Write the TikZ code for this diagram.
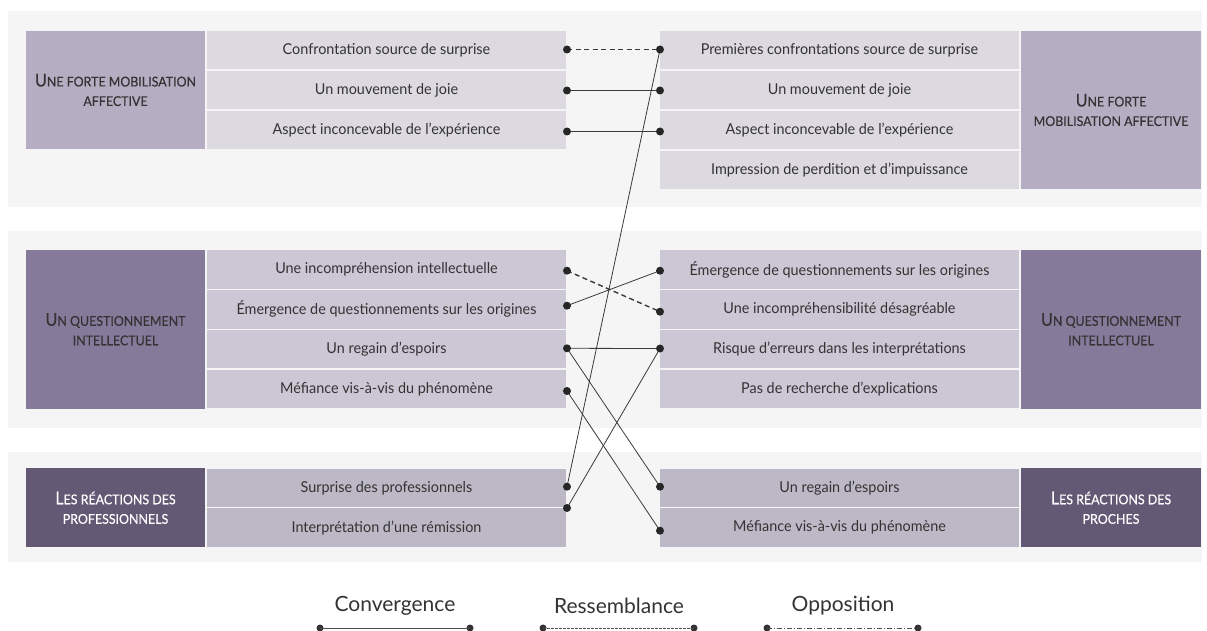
\documentclass[tikz,border=0pt]{standalone}
\usepackage{fontspec}
\setmainfont{Lato}[FakeStretch=0.96]
\newfontfamily\hdfont{Lato}[FakeStretch=0.92,FakeBold=0.4]
\newfontfamily\lgfont{Lato}
\definecolor{panelbg}{HTML}{F6F5F6}
\definecolor{hA}{HTML}{B5AEC3}
\definecolor{cA}{HTML}{DCD9E0}
\definecolor{hB}{HTML}{857A9A}
\definecolor{cB}{HTML}{CCC7D4}
\definecolor{hC}{HTML}{635975}
\definecolor{cC}{HTML}{BDB8C6}
\definecolor{txt}{HTML}{333333}
\definecolor{lnk}{HTML}{3A3A3A}
\newcommand\hcap[1]{{\fontsize{17.5}{19.5}\selectfont #1}}
\begin{document}
\begin{tikzpicture}[x=1pt,y=-1pt,
  panel/.style={fill=panelbg,draw=none},
  cell/.style={draw=none,minimum width=359pt,minimum height=38.4pt,inner sep=0pt,
     text=txt,font=\fontsize{15}{17}\selectfont},
  head/.style={draw=none,minimum width=179pt,inner sep=0pt,align=center,
     font=\hdfont\fontsize{13.5}{19.5}\selectfont},
  dot/.style={circle,fill=black!85,draw=none,minimum size=8pt,inner sep=0pt},
  ldot/.style={circle,fill=black!80,draw=none,minimum size=7pt,inner sep=0pt},
  conv/.style={draw=lnk,line width=0.8pt},
  ress/.style={draw=lnk,line width=1.4pt,dash pattern=on 5pt off 3.5pt},
  legline/.style={draw=black!70,line width=0.7pt},
  legtext/.style={font=\lgfont\fontsize{21}{23}\selectfont,text=txt,inner sep=0pt}
]
\useasboundingbox (0,0) rectangle (1207,631);
\fill[white] (0,0) rectangle (1207,631);
% panels
\path[panel] (8,10.7) rectangle (1202,206.7);
\path[panel] (8,230.7) rectangle (1202,428);
\path[panel] (8,451.7) rectangle (1202,561.7);

% ---------- panel 1 ----------
\node[head,fill=hA,minimum height=118pt,text=txt] (hAL) at (115.5,90)
  {\hcap{U}NE FORTE MOBILISATION\\AFFECTIVE};
\node[cell,fill=cA] (a1) at (386.5,50) {Confrontation source de surprise};
\node[cell,fill=cA] (a2) at (386.5,90) {Un mouvement de joie};
\node[cell,fill=cA] (a3) at (386.5,130) {Aspect inconcevable de l'expérience};
\node[cell,fill=cA] (b1) at (839.5,50) {Premières confrontations source de surprise};
\node[cell,fill=cA] (b2) at (839.5,90) {Un mouvement de joie};
\node[cell,fill=cA] (b3) at (839.5,130) {Aspect inconcevable de l'expérience};
\node[cell,fill=cA] (b4) at (839.5,170) {Impression de perdition et d'impuissance};
\node[head,fill=hA,minimum width=180pt,minimum height=158pt,text=txt] (hAR) at (1111,110)
  {\hcap{U}NE FORTE\\MOBILISATION AFFECTIVE};

% ---------- panel 2 ----------
\node[head,fill=hB,minimum height=158.5pt,text=txt] (hBL) at (115.5,329.3)
  {\hcap{U}N QUESTIONNEMENT\\INTELLECTUEL};
\node[cell,fill=cB] (c1) at (386.5,269.6) {Une incompréhension intellectuelle};
\node[cell,fill=cB] (c2) at (386.5,309.4) {Émergence de questionnements sur les origines};
\node[cell,fill=cB] (c3) at (386.5,349.2) {Un regain d'espoirs};
\node[cell,fill=cB] (c4) at (386.5,389) {Méfiance vis-à-vis du phénomène};
\node[cell,fill=cB] (d1) at (839.5,269.6) {Émergence de questionnements sur les origines};
\node[cell,fill=cB] (d2) at (839.5,309.4) {Une incompréhensibilité désagréable};
\node[cell,fill=cB] (d3) at (839.5,349.2) {Risque d'erreurs dans les interprétations};
\node[cell,fill=cB] (d4) at (839.5,389) {Pas de recherche d'explications};
\node[head,fill=hB,minimum width=180pt,minimum height=158.5pt,text=txt] (hBR) at (1111,329.3)
  {\hcap{U}N QUESTIONNEMENT\\INTELLECTUEL};

% ---------- panel 3 ----------
\node[head,fill=hC,minimum height=79pt,text=white] (hCL) at (115.5,507.8)
  {\hcap{L}ES RÉACTIONS DES\\PROFESSIONNELS};
\node[cell,fill=cC] (e1) at (386.5,488) {Surprise des professionnels};
\node[cell,fill=cC] (e2) at (386.5,527.6) {Interprétation d'une rémission};
\node[cell,fill=cC] (f1) at (839.5,488) {Un regain d'espoirs};
\node[cell,fill=cC] (f2) at (839.5,527.6) {Méfiance vis-à-vis du phénomène};
\node[head,fill=hC,minimum width=180pt,minimum height=79pt,text=white] (hCR) at (1111,507.8)
  {\hcap{L}ES RÉACTIONS DES\\PROCHES};

% ---------- dots ----------
\coordinate (pa1) at (567,49.5);
\coordinate (pa2) at (567,90.5);
\coordinate (pa3) at (567,131.5);
\coordinate (pb1) at (660,49.5);
\coordinate (pb2) at (660,90.5);
\coordinate (pb3) at (660,131.5);
\coordinate (pc1) at (567,270.7);
\coordinate (pc2) at (567,305.7);
\coordinate (pc3) at (567,348.3);
\coordinate (pc4) at (567,391);
\coordinate (pd1) at (660,270.7);
\coordinate (pd2) at (660,311.7);
\coordinate (pd3) at (660,348.5);
\coordinate (pe1) at (567,486.7);
\coordinate (pe2) at (567,508);
\coordinate (pf1) at (660,486.7);
\coordinate (pf2) at (660,530.7);

% ---------- connectors ----------
\draw[ress] (pa1) -- (pb1);
\draw[conv] (pa2) -- (pb2);
\draw[conv] (pa3) -- (pb3);
\draw[ress] (pc1) -- (pd2);
\draw[conv] (pc2) -- (pd1);
\draw[conv] (pc3) -- (pd3);
\draw[conv] (pc3) -- (pf1);
\draw[conv] (pc4) -- (pf2);
\draw[conv] (pe2) -- (pd3);
\draw[conv] (pe1) -- (pb1);

\foreach \p in {pa1,pa2,pa3,pb1,pb2,pb3,pc1,pc2,pc3,pc4,pd1,pd2,pd3,pe1,pe2,pf1,pf2}
  \node[dot] at (\p) {};

% ---------- legend ----------
\node[legtext] (lg1) at (395,606) {Convergence};
\node[legtext] (lg2) at (619,606) {Ressemblance};
\node[legtext] (lg3) at (843,606) {Opposition};
\node[ldot] (l1a) at (320,628) {};
\node[ldot] (l1b) at (470,628) {};
\node[ldot] (l2a) at (543,628) {};
\node[ldot] (l2b) at (694,628) {};
\node[ldot] (l3a) at (767,628) {};
\node[ldot] (l3b) at (918,628) {};
\draw[legline] (l1a.center) -- (l1b.center);
\draw[legline,dash pattern=on 2.5pt off 1.5pt] (l2a.center) -- (l2b.center);
\draw[legline,dash pattern=on 5pt off 2pt on 1pt off 2pt] (l3a.center) -- (l3b.center);
\end{tikzpicture}
\end{document}
